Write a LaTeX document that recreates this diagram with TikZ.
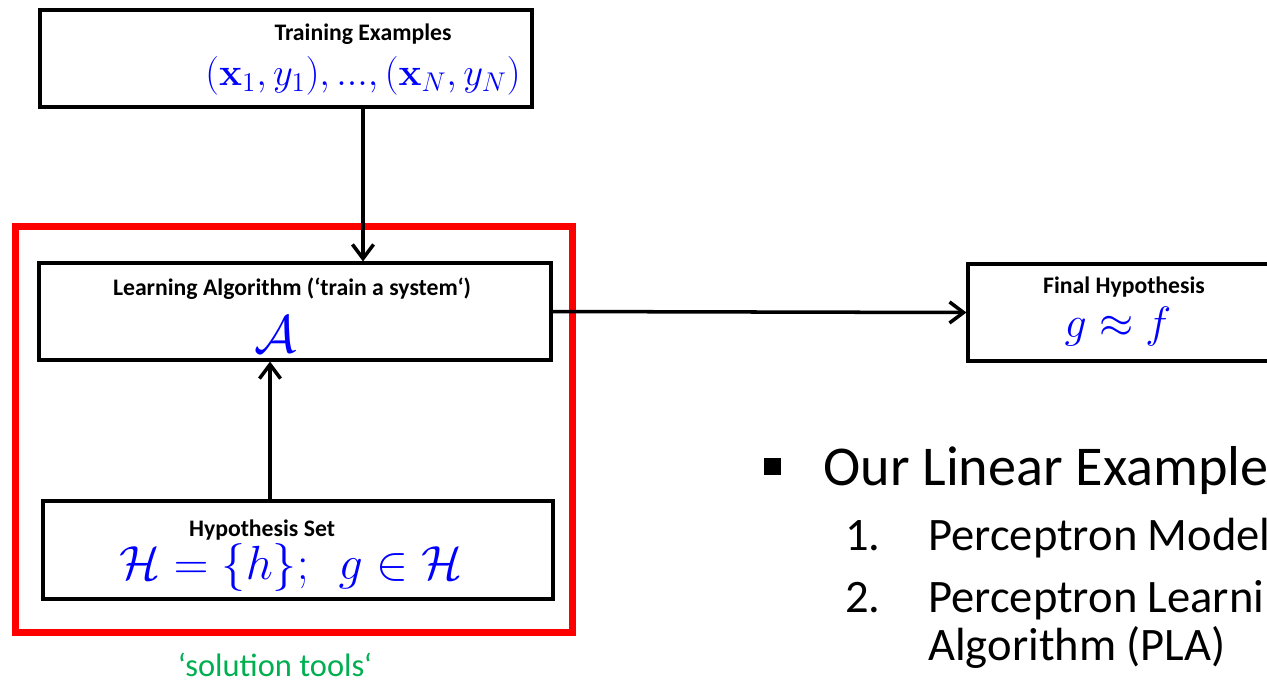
\RequirePackage{fix-cm}
\documentclass[tikz,border=0pt]{standalone}
\usepackage{amsmath}
\usepackage[no-math]{fontspec}
\setmainfont{Carlito}
\usetikzlibrary{arrows.meta, positioning}
\definecolor{toolgreen}{RGB}{0,176,80}

\begin{document}
\begin{tikzpicture}[x=0.02cm, y=-0.02cm,
    box/.style={draw, line width=1.8pt, inner sep=0pt, minimum height=1.94cm},
    flow/.style={line width=2pt, -{Straight Barb[length=8pt, width=12pt]}},
    boxtitle/.style={font=\bfseries\fontsize{13.5}{15}\selectfont, inner sep=0pt},
    formula/.style={text=blue, inner sep=0pt},
    listitem/.style={anchor=base west, inner sep=0pt, font=\fontsize{26.5}{31}\selectfont}]
                % Fix the page size and cut what runs past it
                \useasboundingbox (0,0) rectangle (1267,681);
                \clip (0,0) rectangle (1267,681);

                % Boxes
                \node[box, minimum width=9.84cm] (train) at (286,58.5) {};
                \node[box, minimum width=10.24cm] (learn) at (295,311.5) {};
                \node[box, minimum width=10.2cm, minimum height=1.96cm] (hypset) at (298,550) {};
                \node[box, minimum width=6.24cm] (final) at (1124,312.5) {};

                % Red frame round the solution tools
                \draw[red, line width=4pt] (15.5,226.5) rectangle (572.5,632.5);

                % Box texts
                \node[boxtitle] (trainhead) at (363,34) {Training Examples};
                \node[formula, font=\fontsize{22}{25}\selectfont] (trainmath) at (363,76) {$(\mathbf{x}_1,y_1),...,(\mathbf{x}_N,y_N)$};
                \node[boxtitle] (learnhead) at (292,289) {Learning Algorithm (‘train a system‘)};
                \node[formula, font=\fontsize{30}{36}\selectfont] (algo) at (276,334) {$\mathcal{A}$};
                \node[boxtitle] (hyphead) at (262,530) {Hypothesis Set};
                \node[formula, font=\fontsize{27.3}{32}\selectfont] (hypmath) at (291,567) {$\mathcal{H}=\{h\};\ \ g\in\mathcal{H}$};
                \node[boxtitle] (finalhead) at (1124,287) {Final Hypothesis};
                \node[formula, font=\fontsize{25}{29}\selectfont] (finalmath) at (1118,327) {$g\approx f$};
                \node[text=toolgreen, font=\fontsize{18.5}{22}\selectfont] (tools) at (275,665) {‘solution tools‘};

                % Arrows
                \coordinate (upx) at (270,0);
                \draw[flow] (train.south -| trainhead) -- (learn.north -| trainhead);
                \draw[flow] (hypset.north -| upx) -- (learn.south -| upx);
                \draw[flow] (learn.east) -- (final.west);

                % Bullet list
                \node[fill, minimum size=0.34cm, inner sep=0pt] (bullet) at (772.5,466) {};
                \node[listitem, font=\fontsize{32}{37}\selectfont] (linear) at (823,485) {Our Linear Example};
                \node[listitem] (num1) at (845,550) {1.};
                \node[listitem] (item1) at (928,550) {Perceptron Model};
                \node[listitem] (num2) at (845,612) {2.};
                \node[listitem] (item2) at (928,612) {Perceptron Learning};
                \node[listitem] (item2b) at (928,660) {Algorithm (PLA)};
            \end{tikzpicture}
\end{document}
